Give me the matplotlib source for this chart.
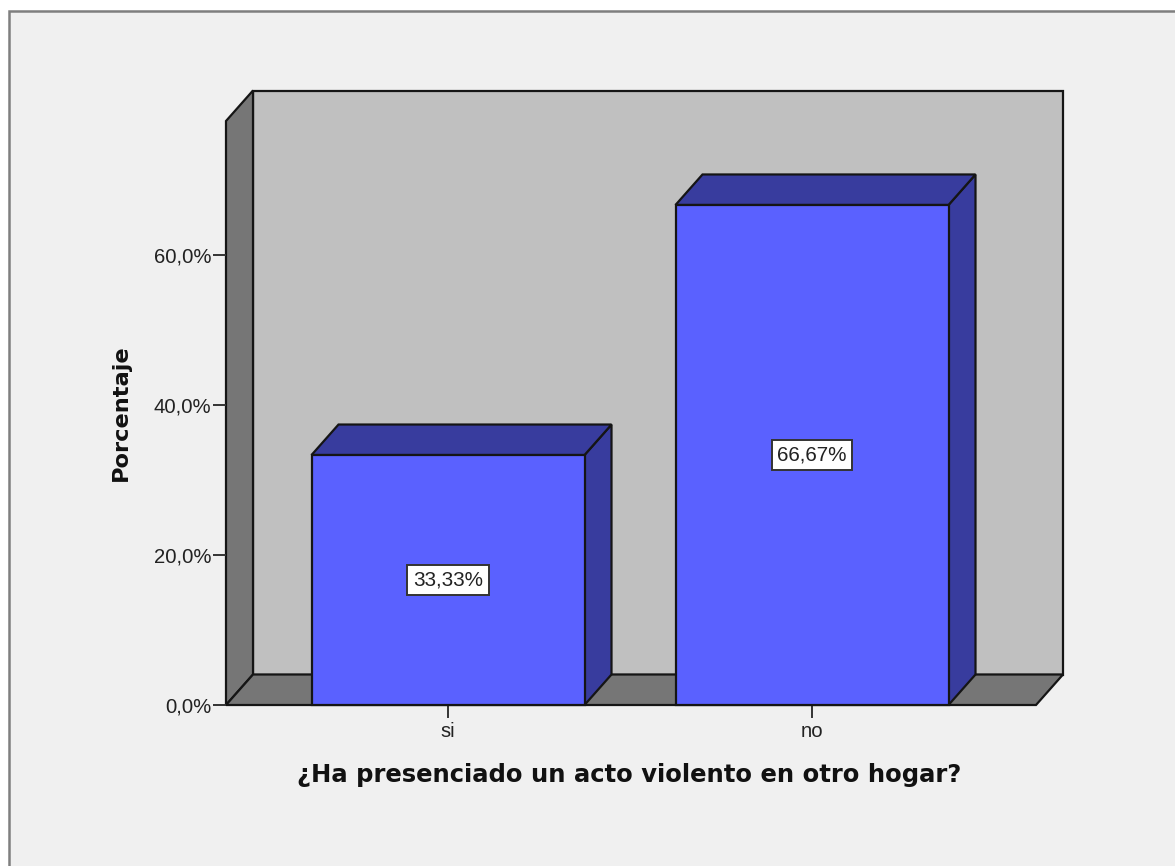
import matplotlib
matplotlib.use("Agg")
import matplotlib.pyplot as plt
from matplotlib.patches import Rectangle
from matplotlib.ticker import FuncFormatter

categories = ["si", "no"]
percentages = [33.33, 66.67]
value_labels = ["33,33%", "66,67%"]
y_ticks = [0, 20, 40, 60]
x_title = "¿Ha presenciado un acto violento en otro hogar?"
y_title = "Porcentaje"

W, H = 1175, 866
plt.rcParams["font.family"] = ["Liberation Sans", "DejaVu Sans"]
fig = plt.figure(figsize=(W / 100, H / 100), dpi=100, facecolor="white")

# panel background and its grey frame
fig.patches.append(Rectangle((8.5 / W, -0.02), 1.1, 1 - 10.5 / H + 0.02, transform=fig.transFigure,
                             facecolor="#f0f0f0", edgecolor="#7f7f7f", linewidth=1.8, zorder=-5))

# axes spans the front plane of the 3-D box
L, R, B, T = 226, 1036, 705, 121
ax = fig.add_axes([L / W, 1 - B / H, (R - L) / W, (B - T) / H])
px_x, px_y = 364.0, 7.5          # pixels per category / per percent
ax.set_xlim((L - 448) / px_x, (R - 448) / px_x)
ax.set_ylim(0, (B - T) / px_y)
ax.patch.set_visible(False)
for s in ax.spines.values():
    s.set_visible(False)

dx, dy = 27 / px_x, 30.5 / px_y  # depth offset
x0, x1 = ax.get_xlim()
y1 = ax.get_ylim()[1]
EDGE = "#151515"
LW = 1.6

def face(xs, ys, color, z):
    ax.fill(xs, ys, facecolor=color, edgecolor=EDGE, linewidth=LW, clip_on=False, zorder=z, joinstyle="miter")

# walls and floor
face([x0 + dx, x1 + dx, x1 + dx, x0 + dx], [dy, dy, y1 + dy, y1 + dy], "#c0c0c0", 1)
face([x0, x0 + dx, x0 + dx, x0], [0, dy, y1 + dy, y1], "#767676", 1.1)
face([x0, x1, x1 + dx, x0 + dx], [0, 0, dy, dy], "#767676", 1.2)

# bars
bw = 0.75
for i, (v, lab) in enumerate(zip(percentages, value_labels)):
    a, b = i - bw / 2, i + bw / 2
    face([b, b + dx, b + dx, b], [0, dy, v + dy, v], "#383c9e", 2 + i)
    face([a, a + dx, b + dx, b], [v, v + dy, v + dy, v], "#383c9e", 2 + i)
    ax.bar(i, v, width=bw, color="#5a61ff", edgecolor=EDGE, linewidth=LW, clip_on=False, zorder=2.5 + i)
    ax.text(i, v / 2, lab, ha="center", va="center", fontsize=14.9, color="#222222", zorder=6,
            bbox=dict(boxstyle="square,pad=0.27", facecolor="white", edgecolor="#333333", linewidth=1.4))

# axes
ax.set_yticks(y_ticks)
ax.yaxis.set_major_formatter(FuncFormatter(lambda v, p: f"{v:.1f}%".replace(".", ",")))
ax.set_xticks(range(len(categories)), categories)
ax.tick_params(axis="both", length=9.4, width=1.4, color="#333333", labelcolor="#222222", labelsize=14.6, pad=1)
ax.tick_params(axis="x", length=0, pad=12.5)
for i in range(len(categories)):
    ax.plot([i, i], [0, -12 / px_y], color="#333333", lw=1.4, clip_on=False, zorder=1)

fig.text(629.5 / W, 1 - 775 / H, x_title, ha="center", va="center", fontsize=17.5,
         fontweight="bold", family="DejaVu Sans", color="#111111")
fig.text(121 / W, 1 - 413 / H, y_title, ha="center", va="center", rotation=90, fontsize=16.2,
         fontweight="bold", family="DejaVu Sans", color="#111111")

fig.savefig("out.png", dpi=100, facecolor=fig.get_facecolor())
